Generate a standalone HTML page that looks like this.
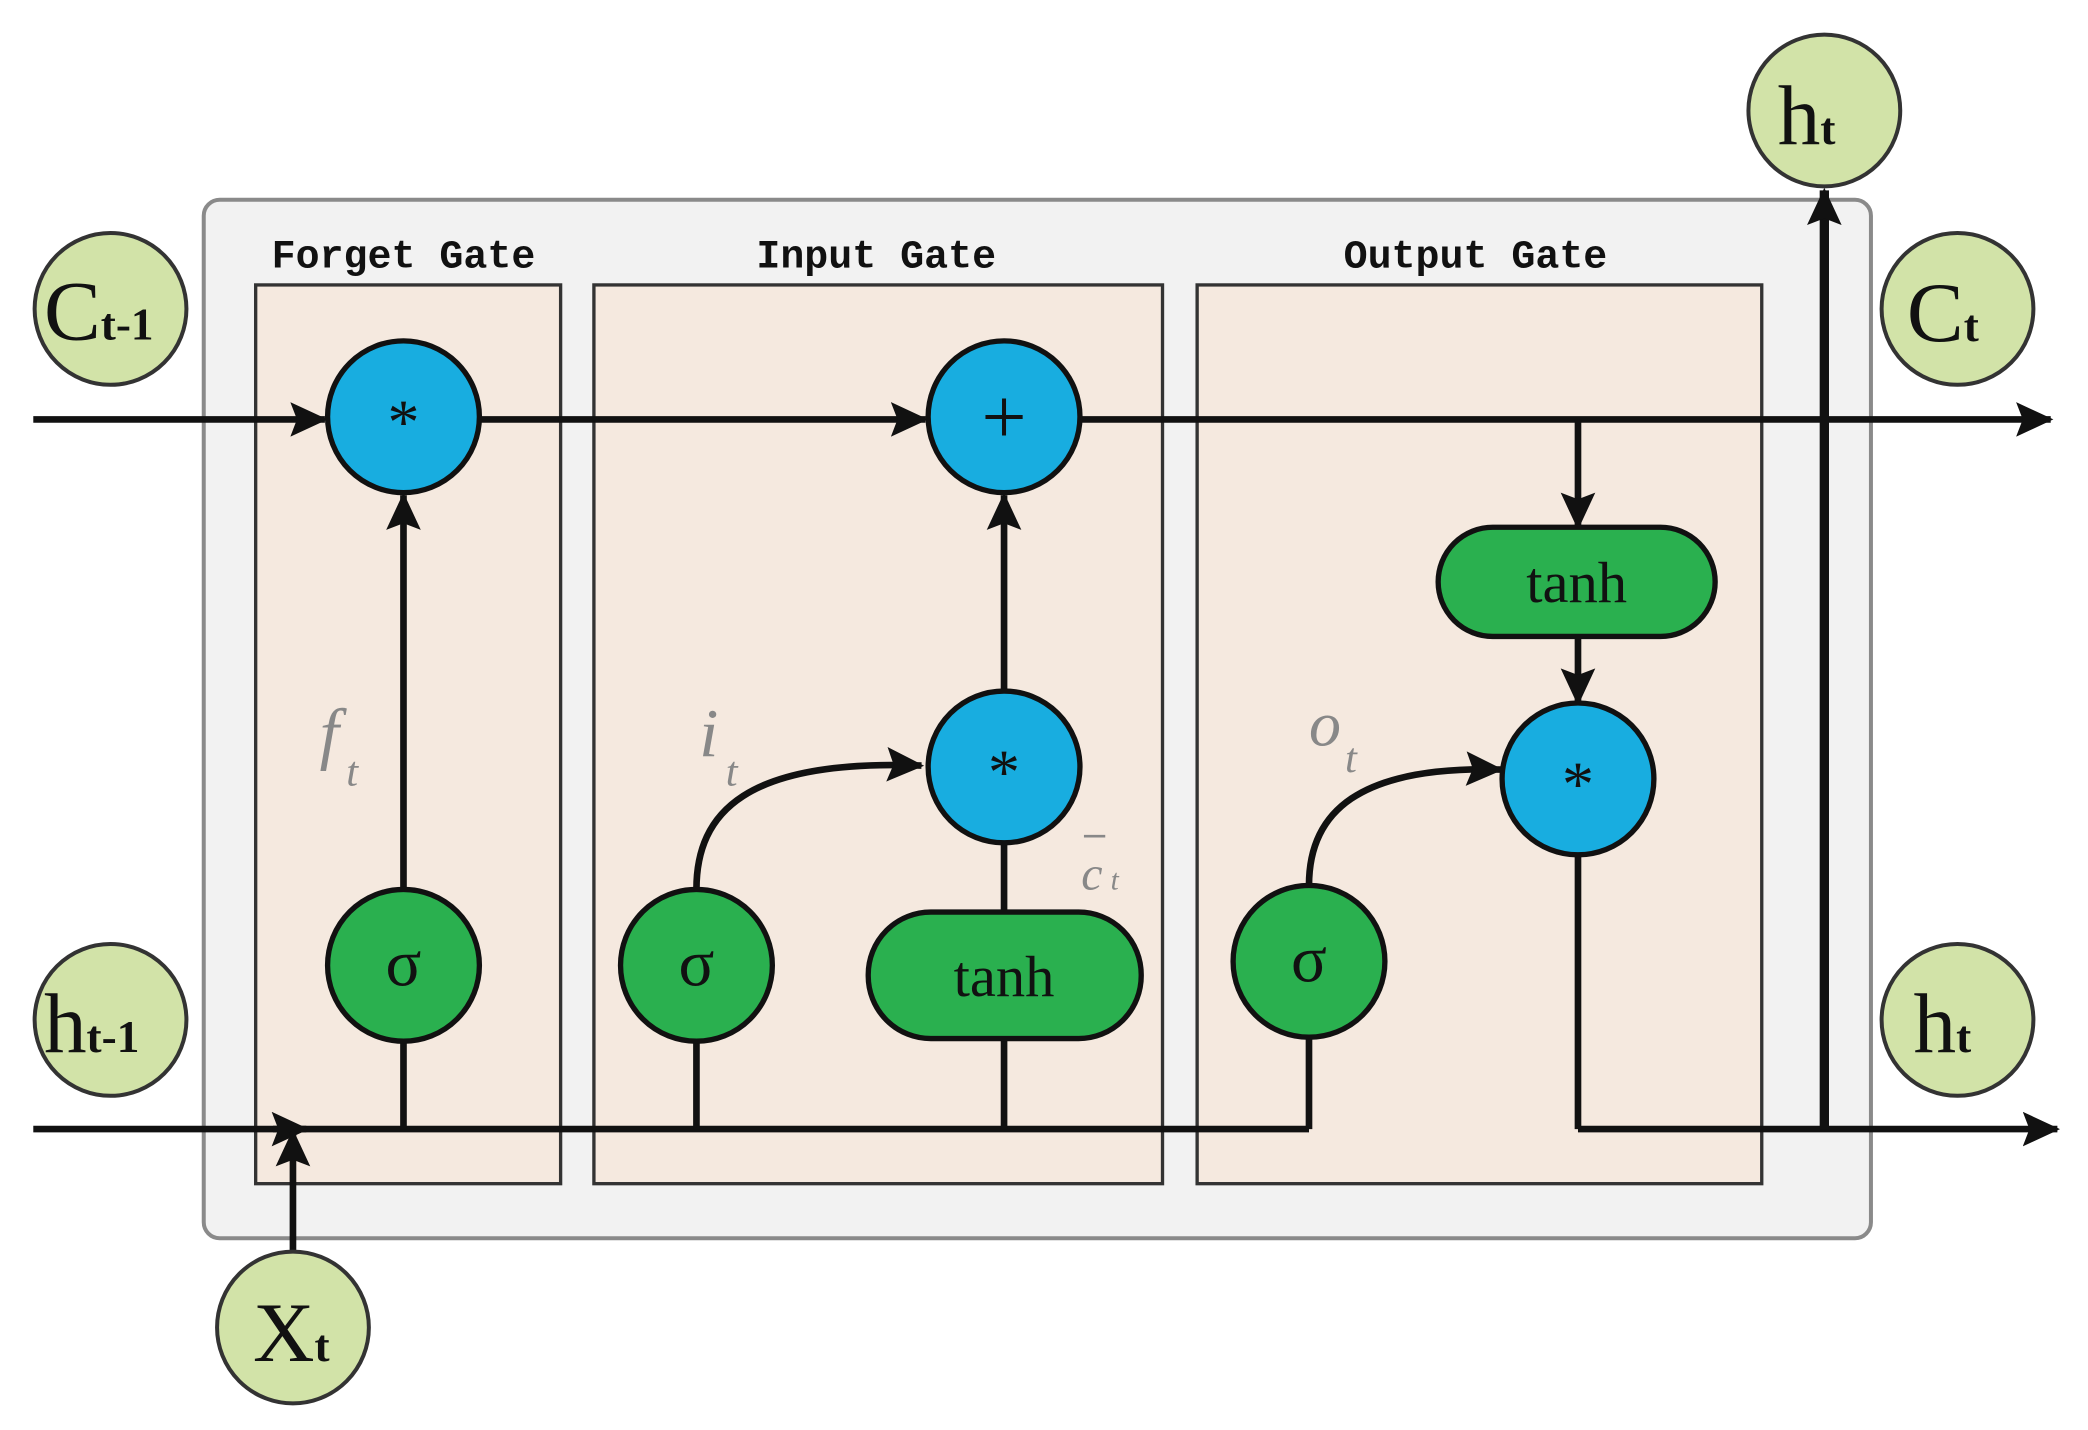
<!DOCTYPE html>
<html><head><meta charset="utf-8"><style>
html,body{margin:0;padding:0;background:#fff;}
svg{display:block}
</style></head><body>
<svg width="2088" height="1430" viewBox="0 0 1568 1074" preserveAspectRatio="none" xmlns="http://www.w3.org/2000/svg">
<defs>
<marker id="b" markerWidth="28" markerHeight="26" refX="26" refY="13" orient="auto" markerUnits="userSpaceOnUse" viewBox="0 0 28 26"><path d="M0,0 L28,13 L0,26 L5,13 Z" fill="#111"/></marker>
</defs>
<rect x="153" y="150" width="1252" height="780" rx="12" fill="#f2f2f2" stroke="#8a8a8a" stroke-width="3"/>
<rect x="192" y="214" width="229" height="675" fill="#f5e9df" stroke="#333" stroke-width="2.5"/>
<rect x="446" y="214" width="427" height="675" fill="#f5e9df" stroke="#333" stroke-width="2.5"/>
<rect x="899" y="214" width="424" height="675" fill="#f5e9df" stroke="#333" stroke-width="2.5"/>
<g font-family="Liberation Mono, monospace" font-weight="bold" font-size="30" fill="#111" text-anchor="middle">
<text x="303" y="201">Forget Gate</text>
<text x="658" y="201">Input Gate</text>
<text x="1108" y="201">Output Gate</text>
</g>
<g stroke="#111" stroke-width="5" fill="none">
<line x1="25" y1="315" x2="244" y2="315" marker-end="url(#b)"/>
<line x1="360" y1="315" x2="695" y2="315" marker-end="url(#b)"/>
<line x1="811" y1="315" x2="1540" y2="315" marker-end="url(#b)"/>
<line x1="25" y1="848" x2="983" y2="848"/>
<line x1="205" y1="848" x2="230" y2="848" marker-end="url(#b)"/>
<line x1="1185" y1="848" x2="1545" y2="848" marker-end="url(#b)"/>
<line x1="220" y1="940" x2="220" y2="850" marker-end="url(#b)"/>
<line x1="303" y1="848" x2="303" y2="782"/>
<line x1="303" y1="668" x2="303" y2="372" marker-end="url(#b)"/>
<line x1="523" y1="848" x2="523" y2="782"/>
<path d="M523,668 C523,610 560,570 692,575" marker-end="url(#b)"/>
<line x1="754" y1="848" x2="754" y2="780"/>
<line x1="754" y1="685" x2="754" y2="633"/>
<line x1="754" y1="519" x2="754" y2="372" marker-end="url(#b)"/>
<line x1="983" y1="848" x2="983" y2="779"/>
<path d="M983,665 C983,610 1020,575 1127,578" marker-end="url(#b)"/>
<line x1="1185" y1="315" x2="1185" y2="396" marker-end="url(#b)"/>
<line x1="1185" y1="478" x2="1185" y2="528" marker-end="url(#b)"/>
<line x1="1185" y1="642" x2="1185" y2="848"/>
<line x1="1370" y1="848" x2="1370" y2="143" stroke-width="7" marker-end="url(#b)"/>
</g>
<g stroke="#111" stroke-width="4" fill="#18ade0">
<circle cx="303" cy="313" r="57"/>
<circle cx="754" cy="313" r="57"/>
<circle cx="754" cy="576" r="57"/>
<circle cx="1185" cy="585" r="57"/>
</g>
<g stroke="#111" stroke-width="4" fill="#2ab04f">
<circle cx="303" cy="725" r="57"/>
<circle cx="523" cy="725" r="57"/>
<circle cx="983" cy="722" r="57"/>
<rect x="652" y="685" width="205" height="95" rx="47" />
<rect x="1080" y="396" width="208" height="82" rx="41" />
</g>
<g font-family="Liberation Serif, serif" fill="#111" text-anchor="middle">
<text x="303" y="333" font-size="48">*</text>
<text x="754" y="333" font-size="60">+</text>
<text x="754" y="596" font-size="48">*</text>
<text x="1185" y="605" font-size="48">*</text>
<text x="303" y="740" font-size="50">σ</text>
<text x="523" y="740" font-size="50">σ</text>
<text x="983" y="737" font-size="50">σ</text>
<text x="754" y="748" font-size="44">tanh</text>
<text x="1184" y="452" font-size="44">tanh</text>
</g>
<g stroke="#333" stroke-width="3" fill="#d2e3a8">
<circle cx="83" cy="232" r="57"/>
<circle cx="83" cy="766" r="57"/>
<circle cx="220" cy="997" r="57"/>
<circle cx="1370" cy="83" r="57"/>
<circle cx="1470" cy="232" r="57"/>
<circle cx="1470" cy="766" r="57"/>
</g>
<g font-family="Liberation Serif, serif" fill="#111" font-size="64">
<text x="33" y="255">C<tspan font-size="34" font-weight="bold">t-1</tspan></text>
<text x="33" y="790">h<tspan font-size="34" font-weight="bold">t-1</tspan></text>
<text x="190" y="1022">X<tspan font-size="34" font-weight="bold">t</tspan></text>
<text x="1335" y="108">h<tspan font-size="34" font-weight="bold">t</tspan></text>
<text x="1432" y="256">C<tspan font-size="34" font-weight="bold">t</tspan></text>
<text x="1437" y="790">h<tspan font-size="34" font-weight="bold">t</tspan></text>
</g>
<g font-family="Liberation Serif, serif" font-style="italic" fill="#888">
<text x="240" y="568" font-size="52">f</text><text x="260" y="590" font-size="32">t</text>
<text x="525" y="568" font-size="52">i</text><text x="545" y="590" font-size="32">t</text>
<text x="983" y="560" font-size="48">o</text><text x="1010" y="580" font-size="32">t</text>
<text x="812" y="668" font-size="36">c</text><text x="834" y="668" font-size="22">t</text>
<line x1="814" y1="628" x2="830" y2="628" stroke="#888" stroke-width="2"/>
</g>
</svg>
</body></html>
